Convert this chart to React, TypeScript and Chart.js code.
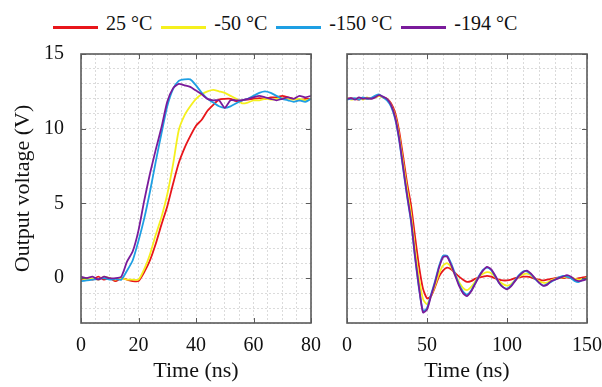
import React, { useEffect, useRef } from "react";
import { Chart, registerables } from "chart.js";

Chart.register(...registerables);

// ---------- data ----------
const seriesLabels = ["25 °C", "-50 °C", "-150 °C", "-194 °C"];
const seriesColors = ["#e8161b", "#f5f01e", "#1e9fe3", "#7a1b9b"];

// left panel: rising edge (ns)
const riseTime = [0, 2, 4, 6, 8, 10, 12, 14, 16, 18, 20, 22, 24, 26, 28, 30, 32, 34, 36, 38, 40, 42, 44, 46, 48, 50, 52, 54, 56, 58, 60, 62, 64, 66, 68, 70, 72, 74, 76, 78, 80];
const rise25 = [-0.1, 0.0, -0.1, 0.1, -0.1, 0.0, -0.2, 0.0, -0.1, -0.2, -0.2, 0.4, 1.2, 2.3, 3.6, 4.8, 6.3, 7.7, 8.7, 9.5, 10.2, 10.6, 11.2, 11.6, 11.95, 12.0, 12.0, 11.85, 11.9, 11.95, 12.0, 12.05, 12.0, 12.1, 12.1, 12.2, 12.1, 12.0, 11.9, 12.0, 12.0];
const riseM50 = [0.0, -0.1, 0.0, -0.1, 0.1, 0.0, -0.1, 0.0, -0.1, -0.1, -0.1, 0.6, 1.6, 2.9, 4.1, 5.6, 7.6, 9.9, 10.9, 11.5, 12.0, 12.3, 12.5, 12.6, 12.5, 12.4, 12.2, 12.0, 11.7, 11.75, 11.9, 11.9, 12.0, 11.95, 12.0, 12.05, 12.0, 11.95, 12.0, 11.9, 12.0];
const riseM150 = [-0.2, -0.15, -0.1, -0.05, 0.0, -0.1, -0.05, -0.1, 0.5, 1.2, 2.5, 4.0, 5.8, 7.8, 9.7, 11.5, 12.65, 13.2, 13.3, 13.3, 12.9, 12.4, 12.0, 11.75, 11.5, 11.4, 11.5, 11.7, 11.9, 12.0, 12.2, 12.4, 12.5, 12.4, 12.2, 12.0, 11.9, 11.8, 11.9, 11.8, 12.0];
const riseM194 = [0.1, 0.0, 0.1, -0.1, 0.1, 0.0, 0.0, 0.1, 1.1, 1.8, 3.2, 5.2, 7.0, 8.6, 10.1, 11.8, 12.7, 13.0, 12.9, 12.8, 12.55, 12.3, 12.0, 11.9, 11.9, 11.4, 11.9, 11.9, 11.9, 12.0, 12.1, 12.2, 12.1, 12.0, 11.9, 12.0, 12.1, 12.0, 12.2, 12.1, 12.2];

// right panel: falling edge (ns)
const fallTime = [0, 2.5, 5, 7.5, 10, 12.5, 15, 17.5, 20, 22.5, 25, 27.5, 30, 32.5, 35, 37.5, 40, 42.5, 45, 47.5, 50, 52.5, 55, 57.5, 60, 62.5, 65, 67.5, 70, 72.5, 75, 77.5, 80, 82.5, 85, 87.5, 90, 92.5, 95, 97.5, 100, 102.5, 105, 107.5, 110, 112.5, 115, 117.5, 120, 122.5, 125, 127.5, 130, 132.5, 135, 137.5, 140, 142.5, 145, 147.5, 150];
const fall25 = [12.0, 12.05, 12.0, 11.95, 12.05, 12.0, 12.05, 12.1, 12.2, 12.1, 12.0, 11.7, 11.1, 9.9, 8.2, 6.4, 4.9, 2.8, 0.8, -0.7, -1.35, -1.2, -0.6, 0.1, 0.5, 0.7, 0.6, 0.35, 0.1, -0.1, -0.25, -0.2, -0.05, 0.05, 0.1, 0.15, 0.1, 0.0, -0.1, -0.15, -0.15, -0.1, 0.0, 0.05, 0.1, 0.1, 0.05, -0.05, -0.1, -0.15, -0.1, -0.05, 0.0, 0.05, 0.0, 0.05, 0.0, -0.05, 0.0, 0.05, 0.1];
const fallM50 = [12.05, 11.95, 12.0, 12.05, 11.95, 12.1, 12.0, 12.1, 12.2, 12.1, 12.0, 11.6, 10.9, 9.6, 7.8, 6.0, 4.3, 2.0, 0.0, -1.4, -1.75, -1.2, -0.5, 0.3, 0.85, 1.0, 0.75, 0.25, -0.25, -0.65, -0.8, -0.6, -0.25, 0.1, 0.3, 0.4, 0.35, 0.1, -0.2, -0.4, -0.5, -0.4, -0.15, 0.1, 0.25, 0.3, 0.2, 0.0, -0.2, -0.3, -0.3, -0.15, -0.05, 0.0, 0.05, 0.1, 0.05, -0.05, -0.1, -0.05, 0.0];
const fallM150 = [11.95, 12.0, 12.05, 11.95, 12.1, 12.0, 12.05, 12.2, 12.3, 12.1, 11.9, 11.5, 10.7, 9.3, 7.4, 5.5, 3.8, 1.4, -0.7, -2.2, -2.0, -1.1, -0.2, 0.8, 1.5, 1.5, 1.0, 0.3, -0.4, -0.9, -1.1, -0.85, -0.35, 0.15, 0.55, 0.7, 0.55, 0.15, -0.3, -0.6, -0.7, -0.5, -0.15, 0.2, 0.45, 0.45, 0.25, -0.05, -0.3, -0.5, -0.4, -0.25, -0.1, 0.05, 0.15, 0.1, 0.0, -0.2, -0.25, -0.1, 0.0];
const fallM194 = [12.0, 12.05, 11.95, 12.1, 12.0, 12.05, 12.0, 12.1, 12.25, 12.15, 12.0, 11.6, 10.8, 9.4, 7.5, 5.6, 3.9, 1.5, -0.6, -2.3, -2.1, -1.2, -0.3, 0.7, 1.4, 1.45, 0.9, 0.2, -0.5, -1.0, -1.2, -0.9, -0.4, 0.1, 0.5, 0.75, 0.6, 0.2, -0.3, -0.6, -0.75, -0.55, -0.2, 0.15, 0.4, 0.5, 0.3, 0.0, -0.3, -0.5, -0.45, -0.2, -0.1, 0.0, 0.1, 0.2, 0.1, -0.1, -0.2, -0.15, -0.05];

const riseSeries = [rise25, riseM50, riseM150, riseM194];
const fallSeries = [fall25, fallM50, fallM150, fallM194];

const yMin = -3;
const yMax = 15;
const yMajor = 5;

const FONT = "'Liberation Serif', 'Times New Roman', serif";
const CANVAS_H = 347;
const CANVAS_TOP = 40;

// ---------- plugin: full frame + inward major tick marks ----------
const framePlugin = {
  id: "frame",
  afterDraw(chart: any, _args: any, opts: any) {
    const { ctx, scales } = chart;
    const xs = scales.x;
    const ys = scales.y;
    const L = xs.left, R = xs.right, T = ys.top, B = ys.bottom;
    ctx.save();
    ctx.strokeStyle = "#5b5b5b";
    ctx.lineWidth = 1;
    const len = 5;
    ctx.beginPath();
    for (let v = xs.min; v <= xs.max + 1e-9; v += opts.xMajor) {
      const px = Math.round(xs.getPixelForValue(v)) + 0.5;
      ctx.moveTo(px, B);
      ctx.lineTo(px, B - len);
      ctx.moveTo(px, T);
      ctx.lineTo(px, T + len);
    }
    for (let v = 0; v <= ys.max + 1e-9; v += opts.yMajor) {
      const py = Math.round(ys.getPixelForValue(v)) + 0.5;
      ctx.moveTo(L, py);
      ctx.lineTo(L + len, py);
      ctx.moveTo(R, py);
      ctx.lineTo(R - len, py);
    }
    ctx.stroke();
    ctx.lineWidth = 1.6;
    ctx.strokeRect(L, T, R - L, B - T);
    ctx.restore();
  },
};

function zeroPadding(s: any) {
  s.paddingTop = 0;
  s.paddingBottom = 0;
  s.paddingLeft = 0;
  s.paddingRight = 0;
}

function buildConfig(
  time: number[],
  series: number[][],
  xMax: number,
  xStep: number,
  xMajor: number,
  showY: boolean,
  yWidth: number,
  padding: { top: number; right: number; left: number; bottom: number }
): any {
  return {
    type: "line",
    data: {
      datasets: series.map((vals, i) => ({
        label: seriesLabels[i],
        data: time.map((t, k) => ({ x: t, y: vals[k] })),
        borderColor: seriesColors[i],
        backgroundColor: seriesColors[i],
        borderWidth: 1.8,
        pointRadius: 0,
        tension: 0.2,
        fill: false,
        order: 3 - i,
      })),
    },
    options: {
      responsive: false,
      animation: false,
      events: [],
      layout: { autoPadding: false, padding },
      plugins: {
        legend: { display: false },
        tooltip: { enabled: false },
        frame: { xMajor, yMajor },
      },
      scales: {
        x: {
          type: "linear",
          min: 0,
          max: xMax,
          afterFit: (s: any) => {
            s.height = 64;
            zeroPadding(s);
          },
          ticks: {
            stepSize: xStep,
            autoSkip: false,
            maxRotation: 0,
            padding: 11,
            color: "#111",
            font: { family: FONT, size: 20 },
            callback: (v: number) => (v % xMajor === 0 ? String(v) : ""),
          },
          grid: { color: "rgba(0,0,0,0.14)", lineWidth: 1, drawTicks: false },
          border: { display: false, dash: [2, 2] },
          title: {
            display: true,
            text: "Time (ns)",
            color: "#111",
            font: { family: FONT, size: 22 },
            padding: { top: 0, bottom: 3 },
          },
        },
        y: {
          type: "linear",
          min: yMin,
          max: yMax,
          afterFit: (s: any) => {
            s.width = yWidth;
            zeroPadding(s);
          },
          ticks: {
            display: showY,
            stepSize: 1,
            autoSkip: false,
            padding: 17,
            color: "#111",
            font: { family: FONT, size: 20 },
            callback: (v: number) => (v % yMajor === 0 ? String(v) : ""),
          },
          grid: { color: "rgba(0,0,0,0.14)", lineWidth: 1, drawTicks: false },
          border: { display: false, dash: [2, 2] },
          title: {
            display: showY,
            text: "Output voltage (V)",
            color: "#111",
            font: { family: FONT, size: 22 },
            padding: { top: 10, bottom: 0 },
          },
        },
      },
    },
    plugins: [framePlugin],
  };
}

function Panel(props: { left: number; width: number; config: () => any }) {
  const ref = useRef<HTMLCanvasElement | null>(null);
  useEffect(() => {
    if (!ref.current) return;
    const chart = new Chart(ref.current, props.config());
    return () => chart.destroy();
  }, []);
  return (
    <canvas
      ref={ref}
      width={props.width}
      height={CANVAS_H}
      style={{ position: "absolute", left: props.left, top: CANVAS_TOP, width: props.width, height: CANVAS_H }}
    />
  );
}

function Legend() {
  return (
    <div
      style={{
        position: "absolute",
        left: 53,
        top: 11,
        height: 24,
        display: "flex",
        alignItems: "center",
        fontFamily: FONT,
        fontSize: 20,
        lineHeight: "24px",
        color: "#111",
        whiteSpace: "nowrap",
      }}
    >
      {seriesLabels.map((lab, i) => (
        <div key={lab} style={{ display: "flex", alignItems: "center", marginRight: 9 }}>
          <span
            style={{
              display: "inline-block",
              width: 45,
              height: 3,
              background: seriesColors[i],
              marginRight: 8,
              position: "relative",
              top: 4,
            }}
          />
          <span>{lab}</span>
        </div>
      ))}
    </div>
  );
}

export default function App() {
  return (
    <div
      style={{
        position: "fixed",
        left: 0,
        top: 0,
        width: 602,
        height: 387,
        background: "#fff",
        overflow: "hidden",
      }}
    >
      <Legend />
      <Panel
        left={0}
        width={322}
        config={() => buildConfig(riseTime, riseSeries, 80, 5, 20, true, 81, { top: 14, right: 11, left: 0, bottom: 0 })}
      />
      <Panel
        left={322}
        width={280}
        config={() => buildConfig(fallTime, fallSeries, 150, 10, 50, false, 25, { top: 14, right: 15, left: 0, bottom: 0 })}
      />
    </div>
  );
}
